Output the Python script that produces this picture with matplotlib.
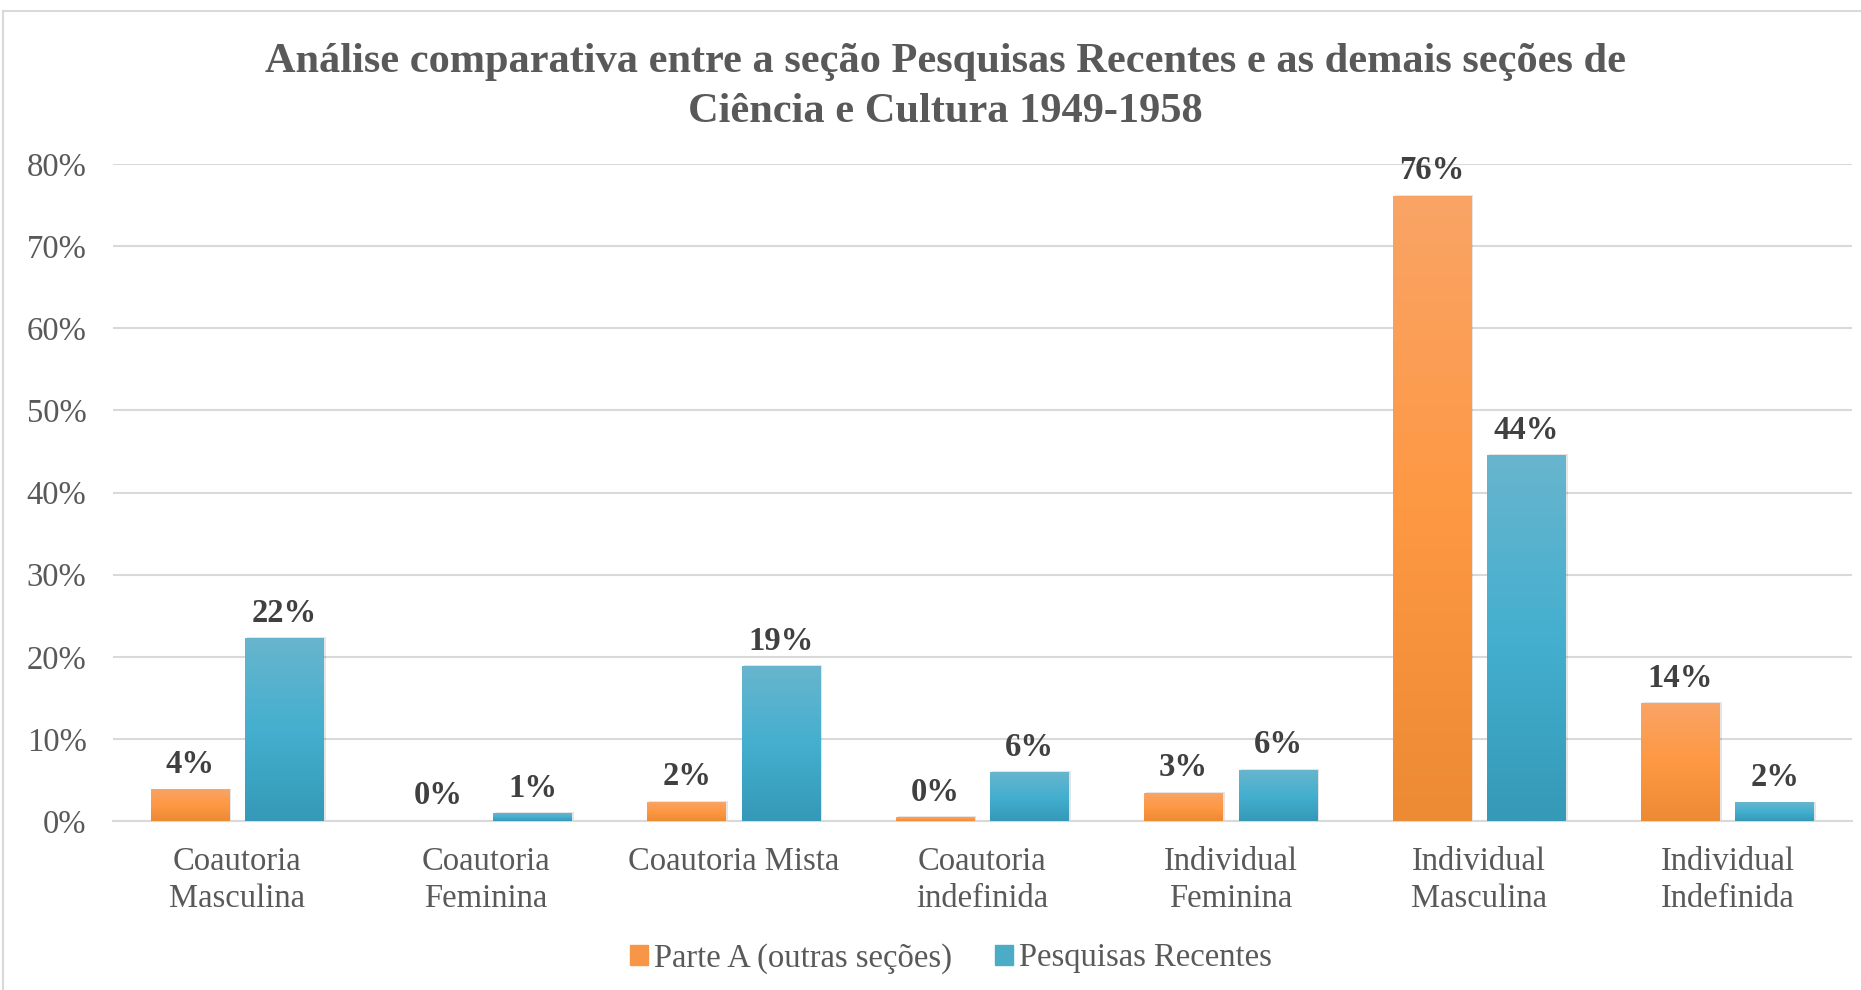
import numpy as np
import matplotlib.pyplot as plt
from matplotlib.colors import LinearSegmentedColormap
from matplotlib.patches import Rectangle

categorias = ["Coautoria\nMasculina", "Coautoria\nFeminina", "Coautoria Mista",
              "Coautoria\nindefinida", "Individual\nFeminina", "Individual\nMasculina",
              "Individual\nIndefinida"]
parte_a = [3.8, 0.0, 2.3, 0.4, 3.4, 76.1, 14.3]
pesquisas = [22.2, 0.9, 18.8, 5.9, 6.2, 44.5, 2.2]
series = ["Parte A (outras seções)", "Pesquisas Recentes"]

titulo = ("Análise comparativa entre a seção Pesquisas Recentes e as demais seções de\n"
          "Ciência e Cultura 1949-1958")

plt.rcParams['font.family'] = ['Liberation Serif', 'DejaVu Serif']

grad_laranja = LinearSegmentedColormap.from_list(
    "lar", ["#ED8A34", "#FE9843", "#F9A466"])
grad_azul = LinearSegmentedColormap.from_list(
    "azu", ["#3599B7", "#44AFCF", "#68B5CD"])
gradiente = np.linspace(0, 1, 256).reshape(-1, 1)

fig = plt.figure(figsize=(18.61, 9.90), dpi=100)
ax = fig.add_axes([0.0607, 0.1707, 0.9343, 0.6636])

x = np.arange(len(categorias))
larg = 0.316
desl = 0.19

for vals, off, cmap, cor in [(parte_a, -desl, grad_laranja, "#F79646"),
                             (pesquisas, desl, grad_azul, "#4BACC6")]:
    barras = ax.bar(x + off, vals, width=larg, color=cor, zorder=3)
    for b, v in zip(barras, vals):
        x0 = b.get_x()
        # sombra leve
        ax.add_patch(Rectangle((x0 + 0.008, 0), larg, v + 0.15, color="#000000",
                               alpha=0.10, zorder=2, lw=0))
        if v > 0:
            ax.imshow(gradiente, cmap=cmap, origin="lower", aspect="auto",
                      extent=(x0, x0 + larg, 0, v), zorder=4)
        ax.annotate(f"{v:.0f}%", (x0 + larg / 2, v), xytext=(0, 7),
                    textcoords="offset points", ha="center", va="bottom",
                    fontsize=23.5, fontweight="bold", color="#404040", zorder=5)

ax.set_xlim(-0.5, len(categorias) - 0.5)
ax.set_ylim(0, 80)
ax.set_yticks(np.arange(0, 81, 10))
ax.set_yticklabels([f"{t}%" for t in range(0, 81, 10)])
ax.set_xticks(x)
ax.set_xticklabels(categorias, linespacing=1.3)
ax.tick_params(axis="y", length=0, pad=19, labelsize=23.5, labelcolor="#595959")
ax.tick_params(axis="x", length=0, pad=18, labelsize=23.5, labelcolor="#595959")
ax.grid(axis="y", color="#D9D9D9", linewidth=1.5, zorder=0)
ax.set_axisbelow(True)
for s in ["top", "right", "left"]:
    ax.spines[s].set_visible(False)
ax.spines["bottom"].set_color("#D9D9D9")
ax.spines["bottom"].set_linewidth(1.5)

fig.text(0.508, 0.912, titulo, ha="center", va="center", fontsize=30.5,
         fontweight="bold", color="#595959", linespacing=1.42)

handles = [Rectangle((0, 0), 1, 1, color="#F79646"),
           Rectangle((0, 0), 1, 1, color="#4BACC6")]
fig.legend(handles, series, loc="center", bbox_to_anchor=(0.511, 0.032), ncol=2,
           frameon=False, fontsize=23.5, handlelength=0.55, handleheight=0.55,
           handletextpad=0.2, columnspacing=1.3, labelcolor="#595959")

# moldura do gráfico
fig.add_artist(plt.Line2D([0.0016, 0.0016], [0, 0.989], color="#D9D9D9", lw=1.5))
fig.add_artist(plt.Line2D([0.0016, 1], [0.989, 0.989], color="#D9D9D9", lw=1.5))

fig.savefig("out.png", dpi=100)
